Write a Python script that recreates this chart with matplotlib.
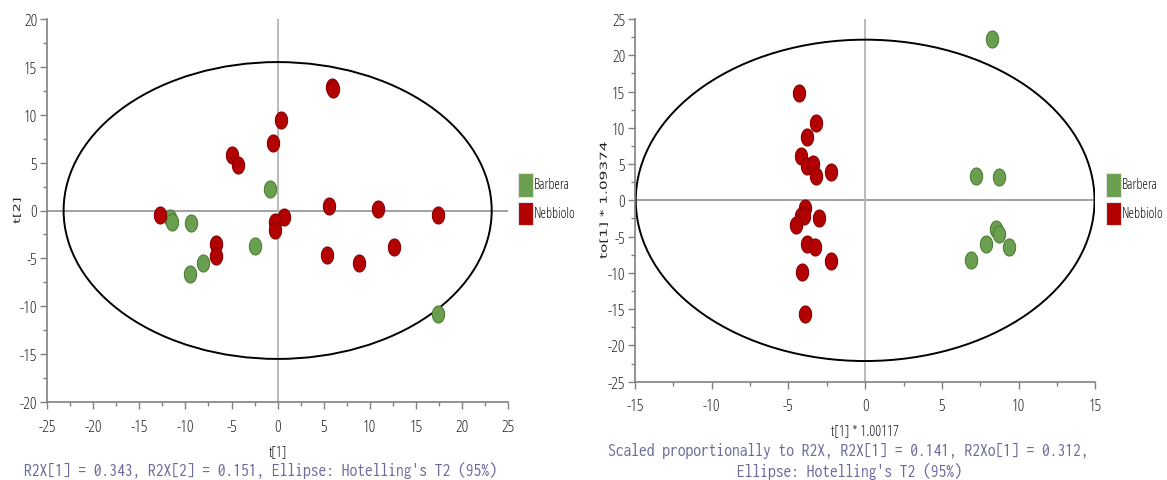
import matplotlib
matplotlib.use("Agg")
import matplotlib.pyplot as plt
import numpy as np
from matplotlib.patches import Ellipse, Rectangle
from matplotlib.path import Path
from matplotlib.patheffects import AbstractPathEffect
from matplotlib.transforms import Affine2D
from matplotlib.ticker import MultipleLocator

plt.rcParams["axes.unicode_minus"] = False

# ---- PCA score plot (t[1] vs t[2]) ----
pca_barbera_t1 = [-11.7, -11.4, -9.4, -0.8, -8.1, -9.5, -2.5, 17.4]
pca_barbera_t2 = [-0.8, -1.2, -1.3, 2.2, -5.5, -6.6, -3.7, -10.8]
pca_nebbiolo_t1 = [-12.8, -5.0, -4.3, -0.5, 0.4, 0.7, -0.3, -0.3, -6.7,
                   -6.7, 5.9, 6.0, 5.6, 10.9, 17.4, 5.4, 8.8, 12.6]
pca_nebbiolo_t2 = [-0.5, 5.8, 4.8, 7.0, 9.4, -0.7, -1.2, -2.0, -3.5,
                   -4.7, 12.9, 12.7, 0.45, 0.2, -0.5, -4.6, -5.5, -3.8]
pca_t2_ellipse = (23.2, 15.5)

# ---- OPLS-DA score plot (t[1] vs to[1]) ----
opls_barbera_t1 = [8.3, 7.2, 8.7, 8.5, 8.7, 7.9, 9.4, 6.9]
opls_barbera_to1 = [22.2, 3.4, 3.2, -4.0, -4.7, -6.0, -6.4, -8.2]
opls_nebbiolo_t1 = [-4.3, -3.2, -3.8, -4.2, -3.8, -3.4, -3.2, -2.2, -3.9,
                    -4.2, -4.0, -4.5, -3.0, -3.8, -3.3, -2.2, -4.1, -3.9]
opls_nebbiolo_to1 = [14.8, 10.7, 8.7, 6.1, 4.7, 5.0, 3.4, 3.9, -1.0,
                     -2.2, -2.1, -3.4, -2.5, -6.0, -6.4, -8.4, -9.9, -15.6]
opls_t2_ellipse = (14.95, 22.15)

groups = ["Barbera", "Nebbiolo"]
group_colors = ["#6a9f4f", "#b30000"]
group_edges = ["#4d7d38", "#8a0000"]

NARROW = dict(family=["Open Sans", "DejaVu Sans"], stretch="condensed")
MONO = dict(family=["Inconsolata", "DejaVu Sans Mono"], stretch="condensed")
CAPTION_COLOR = "#6a6a9c"
AXIS_GREY = "#808080"
TEXT_DARK = "#222222"
W, H = 1167, 481


class Squeeze(AbstractPathEffect):
    """Draw text narrower by scaling its glyph outlines horizontally."""

    def __init__(self, sx):
        super().__init__()
        self.sx = sx

    def draw_path(self, renderer, gc, tpath, affine, rgbFace=None):
        bb = tpath.get_extents(affine)
        x0 = 0.5 * (bb.x0 + bb.x1)
        squeeze = Affine2D().translate(-x0, 0).scale(self.sx, 1).translate(x0, 0)
        renderer.draw_path(gc, tpath, affine + squeeze, rgbFace)


# slightly tall oval marker
theta = np.linspace(0, 2 * np.pi, 60)
oval = Path(np.column_stack([0.72 * np.cos(theta), np.sin(theta)]), closed=True)

fig = plt.figure(figsize=(W / 100, H / 100), dpi=100)


def style_axes(ax, xlim, ylim, major):
    ax.set_xlim(*xlim)
    ax.set_ylim(*ylim)
    for side in ("top", "right"):
        ax.spines[side].set_visible(False)
    for side in ("left", "bottom"):
        ax.spines[side].set_color(AXIS_GREY)
        ax.spines[side].set_linewidth(1.2)
    ax.xaxis.set_major_locator(MultipleLocator(major))
    ax.yaxis.set_major_locator(MultipleLocator(major))
    ax.xaxis.set_minor_locator(MultipleLocator(major / 2))
    ax.yaxis.set_minor_locator(MultipleLocator(major / 2))
    ax.tick_params(which="major", direction="out", length=5, width=1,
                   color=AXIS_GREY, labelsize=12, labelcolor=TEXT_DARK)
    ax.tick_params(axis="y", which="major", pad=2)
    ax.tick_params(axis="x", which="major", pad=7)
    ax.tick_params(which="minor", direction="out", length=3, width=1,
                   color=AXIS_GREY)
    for t in ax.xaxis.get_major_ticks() + ax.yaxis.get_major_ticks():
        t.label1.set_family(NARROW["family"])
        t.label1.set_fontstretch(NARROW["stretch"])
    ax.axhline(0, color="#9a9a9a", lw=1.3, zorder=1)
    ax.axvline(0, color="#b4b4b4", lw=1.3, zorder=1)
    ax.patch.set_alpha(0)


def draw_scores(ax, series, ellipse):
    a, b = ellipse
    ax.add_patch(Ellipse((0, 0), 2 * a, 2 * b, fill=False, ec="black",
                         lw=1.4, zorder=2))
    for (xs, ys), fc, ec in zip(series, group_colors, group_edges):
        ax.scatter(xs, ys, marker=oval, s=150, c=fc, edgecolors=ec,
                   linewidths=0.8, zorder=3)


def draw_legend(x0):
    for i, (name, col) in enumerate(zip(groups, group_colors)):
        top = 174 + i * 28.7
        fig.patches.append(Rectangle((x0 / W, 1 - (top + 23.5) / H),
                                     15 / W, 23.5 / H,
                                     transform=fig.transFigure,
                                     fc=col, ec="#e2e2e2", lw=0.8))
        fig.text((x0 + 16) / W, 1 - (top + 11.5) / H, name, fontsize=10,
                 color="#111111", va="center", **NARROW)


def axis_labels(ax, xlabel, xy, ylabel, ysize, yx):
    ax.set_xlabel(xlabel, fontsize=10.5, color="#111111", va="center",
                  **NARROW)
    ax.xaxis.set_label_coords(0.5, xy)
    lab = ax.set_ylabel(ylabel, family="DejaVu Sans", fontsize=ysize,
                        color="#222222", va="center")
    lab.set_path_effects([Squeeze(0.62)])
    ax.yaxis.set_label_coords(yx, 0.5)


def caption(xc, y, text):
    fig.text(xc / W, 1 - y / H, text, fontsize=14, color=CAPTION_COLOR,
             ha="center", va="center", **MONO)


# left panel
ax1 = fig.add_axes([47 / W, 1 - 403 / H, 461.3 / W, 383 / H])
style_axes(ax1, (-25, 25), (-20, 20), 5)
draw_scores(ax1, [(pca_barbera_t1, pca_barbera_t2),
                  (pca_nebbiolo_t1, pca_nebbiolo_t2)], pca_t2_ellipse)
axis_labels(ax1, "t[1]", -(453 - 403) / 383, "t[2]", 10.5, (17 - 47) / 461.3)
draw_legend(518)
caption(260.5, 470,
        "R2X[1] = 0.343, R2X[2] = 0.151, Ellipse: Hotelling's T2 (95%)")

# right panel
ax2 = fig.add_axes([635 / W, 1 - 382.7 / H, 460.3 / W, 362.7 / H])
style_axes(ax2, (-15, 15), (-25, 25), 5)
draw_scores(ax2, [(opls_barbera_t1, opls_barbera_to1),
                  (opls_nebbiolo_t1, opls_nebbiolo_to1)], opls_t2_ellipse)
axis_labels(ax2, "t[1] * 1.00117", -(432 - 382.7) / 362.7,
            "to[1] * 1.09374", 11, (604 - 635) / 460.3)
draw_legend(1105.7)
caption(848.5, 451,
        "Scaled proportionally to R2X, R2X[1] = 0.141, R2Xo[1] = 0.312,")
caption(849, 471, "Ellipse: Hotelling's T2 (95%)")

fig.savefig("out.png", dpi=100, facecolor="white")
